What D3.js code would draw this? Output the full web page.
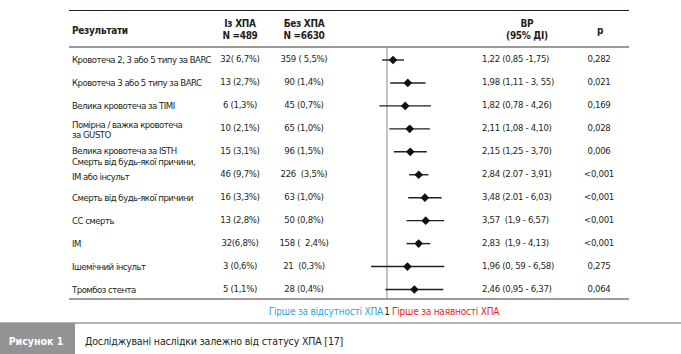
<!DOCTYPE html>
<html>
<head>
<meta charset="utf-8">
<script src="https://cdn.jsdelivr.net/npm/d3@7"></script>
<style>
  body { margin: 0; background: #fff; }
  svg { display: block; }
  text { font-family: "DejaVu Sans Condensed", "Noto Sans", sans-serif; fill: #231f20; white-space: pre; }
</style>
</head>
<body>
<script>
// outcomes, top to bottom
const labels = [
  ["Кровотеча 2, 3 або 5 типу за BARC"],
  ["Кровотеча 3 або 5 типу за BARC"],
  ["Велика кровотеча за TIMI"],
  ["Помірна / важка кровотеча", "за GUSTO"],
  ["Велика кровотеча за ISTH"],
  ["Смерть від будь-якої причини,", "ІМ або інсульт"],
  ["Смерть від будь-якої причини"],
  ["СС смерть"],
  ["ІМ"],
  ["Ішемічний інсульт"],
  ["Тромбоз стента"]
];
const withHpa = ["32( 6,7%)", "13 (2,7%)", "6 (1,3%)", "10 (2,1%)", "15 (3,1%)", "46 (9,7%)",
  "16 (3,3%)", "13 (2,8%)", "32(6,8%)", "3 (0,6%)", "5 (1,1%)"];
const withoutHpa = ["359 ( 5,5%)", "90 (1,4%)", "45 (0,7%)", "65 (1,0%)", "96 (1,5%)", "226  (3,5%)",
  "63 (1,0%)", "50 (0,8%)", "158 (  2,4%)", "21  (0,3%)", "28 (0,4%)"];
const hr = [1.22, 1.98, 1.82, 2.11, 2.15, 2.84, 3.48, 3.57, 2.83, 1.96, 2.46];
const ciLow = [0.85, 1.11, 0.78, 1.08, 1.25, 2.07, 2.01, 1.9, 1.9, 0.59, 0.95];
const ciHigh = [1.75, 3.55, 4.26, 4.10, 3.70, 3.91, 6.03, 6.57, 4.13, 6.58, 6.37];
const hrText = ["1,22 (0,85 -1,75)", "1,98 (1,11 - 3, 55)", "1,82 (0,78 - 4,26)", "2,11 (1,08 - 4,10)",
  "2,15 (1,25 - 3,70)", "2,84 (2.07 - 3,91)", "3,48 (2.01 - 6,03)", "3,57  (1,9 - 6,57)",
  "2,83  (1,9 - 4,13)", "1,96 (0, 59 - 6,58)", "2,46 (0,95 - 6,37)"];
const pValues = ["0,282", "0,021", "0,169", "0,028", "0,006", "<0,001", "<0,001", "<0,001", "<0,001", "0,275", "0,064"];

const width = 681, height = 354;
const tableLeft = 69, tableRight = 629;

const svg = d3.select("body").append("svg")
  .attr("width", width)
  .attr("height", height);

const y = d3.scaleBand()
  .domain(d3.range(labels.length))
  .range([48.5, 301]);

// log scale: 1 sits at x ~387, ~70px per decade
const x = d3.scaleLog().domain([0.1, 10]).range([317, 457]);

const rowY = (i) => y(i) + y.bandwidth() / 2;

// table rules
svg.append("line")
  .attr("x1", tableLeft).attr("x2", tableRight)
  .attr("y1", 10.5).attr("y2", 10.5)
  .attr("stroke", "#231f20").attr("stroke-width", 1);
svg.append("line")
  .attr("x1", tableLeft).attr("x2", tableRight)
  .attr("y1", 47).attr("y2", 47)
  .attr("stroke", "#9a9a9a").attr("stroke-width", 2);
svg.append("line")
  .attr("x1", tableLeft).attr("x2", tableRight)
  .attr("y1", 299).attr("y2", 299)
  .attr("stroke", "#9a9a9a").attr("stroke-width", 2);

// headers
const head = svg.append("g")
  .style("font-weight", "bold")
  .style("font-size", "10px")
  .style("letter-spacing", "-0.3px");
head.append("text").attr("x", 72).attr("y", 34).text("Результати");
head.append("text").attr("x", 240).attr("y", 27).attr("text-anchor", "middle").text("Із ХПА");
head.append("text").attr("x", 240).attr("y", 39).attr("text-anchor", "middle").text("N =489");
head.append("text").attr("x", 304).attr("y", 27).attr("text-anchor", "middle").text("Без ХПА");
head.append("text").attr("x", 304).attr("y", 39).attr("text-anchor", "middle").text("N =6630");
head.append("text").attr("x", 527).attr("y", 27).attr("text-anchor", "middle").text("ВР");
head.append("text").attr("x", 527).attr("y", 39).attr("text-anchor", "middle").text("(95% ДІ)");
head.append("text").attr("x", 600).attr("y", 34).attr("text-anchor", "middle").text("p");

// odd label placements in the original (relative to row centre)
const labelDy = { 3: [-4, 5.5], 4: [-1.5], 5: [-13.5, 1.5] };

const rows = svg.append("g")
  .style("font-size", "9.5px")
  .style("letter-spacing", "-0.3px");

labels.forEach((lines, i) => {
  const dys = labelDy[i] || [0];
  lines.forEach((t, j) => {
    rows.append("text")
      .attr("x", 72)
      .attr("y", rowY(i) + dys[j])
      .attr("dy", "0.35em")
      .style("letter-spacing", "-0.5px")
      .text(t);
  });
});

rows.selectAll(".with")
  .data(withHpa)
  .join("text")
  .attr("class", "with")
  .attr("x", 240)
  .attr("y", (d, i) => rowY(i) - 1)
  .attr("dy", "0.35em")
  .attr("text-anchor", "middle")
  .text((d) => d);

rows.selectAll(".without")
  .data(withoutHpa)
  .join("text")
  .attr("class", "without")
  .attr("x", 304)
  .attr("y", (d, i) => rowY(i) - 1)
  .attr("dy", "0.35em")
  .attr("text-anchor", "middle")
  .text((d) => d);

rows.selectAll(".hr")
  .data(hrText)
  .join("text")
  .attr("class", "hr")
  .attr("x", 482)
  .attr("y", (d, i) => rowY(i) - 1)
  .attr("dy", "0.35em")
  .text((d) => d);

rows.selectAll(".p")
  .data(pValues)
  .join("text")
  .attr("class", "p")
  .attr("x", 599)
  .attr("y", (d, i) => rowY(i) - 1)
  .attr("dy", "0.35em")
  .attr("text-anchor", "middle")
  .text((d) => d);

// reference line at 1
svg.append("line")
  .attr("x1", x(1)).attr("x2", x(1))
  .attr("y1", 48).attr("y2", 299)
  .attr("stroke", "#8a8a8a").attr("stroke-width", 1);

// confidence intervals
svg.selectAll(".ci")
  .data(hr)
  .join("line")
  .attr("class", "ci")
  .attr("x1", (d, i) => x(ciLow[i]))
  .attr("x2", (d, i) => x(ciHigh[i]))
  .attr("y1", (d, i) => rowY(i))
  .attr("y2", (d, i) => rowY(i))
  .attr("stroke", "#231f20")
  .attr("stroke-width", 1.4);

svg.selectAll(".pt")
  .data(hr)
  .join("path")
  .attr("class", "pt")
  .attr("d", d3.symbol(d3.symbolDiamond2, 48))
  .attr("transform", (d, i) => "translate(" + x(d) + "," + rowY(i) + ")")
  .attr("fill", "#111");

// footer
const foot = svg.append("g")
  .style("font-size", "10px")
  .style("letter-spacing", "-0.2px");
foot.append("text").attr("x", x(1) - 4).attr("y", 311).attr("dy", "0.35em")
  .attr("text-anchor", "end").style("fill", "#29a8e0").text("Гірше за відсутності ХПА");
foot.append("text").attr("x", x(1)).attr("y", 311).attr("dy", "0.35em")
  .attr("text-anchor", "middle").text("1");
foot.append("text").attr("x", x(1) + 5).attr("y", 311).attr("dy", "0.35em")
  .style("fill", "#ed1c24").text("Гірше за наявності ХПА");

// caption
svg.append("line")
  .attr("x1", 0).attr("x2", width)
  .attr("y1", 323).attr("y2", 323)
  .attr("stroke", "#9a9a9a").attr("stroke-width", 1.5);
svg.append("rect")
  .attr("x", 0).attr("y", 323)
  .attr("width", 75).attr("height", height - 323)
  .attr("fill", "#939393");
svg.append("text")
  .attr("x", 36).attr("y", 341)
  .attr("dy", "0.35em")
  .attr("text-anchor", "middle")
  .style("font-weight", "bold")
  .style("font-size", "10.5px")
  .style("fill", "#fff")
  .text("Рисунок 1");
svg.append("text")
  .attr("x", 85).attr("y", 341)
  .attr("dy", "0.35em")
  .style("font-size", "10.5px")
  .style("letter-spacing", "-0.15px")
  .text("Досліджувані наслідки залежно від статусу ХПА [17]");
</script>
</body>
</html>
